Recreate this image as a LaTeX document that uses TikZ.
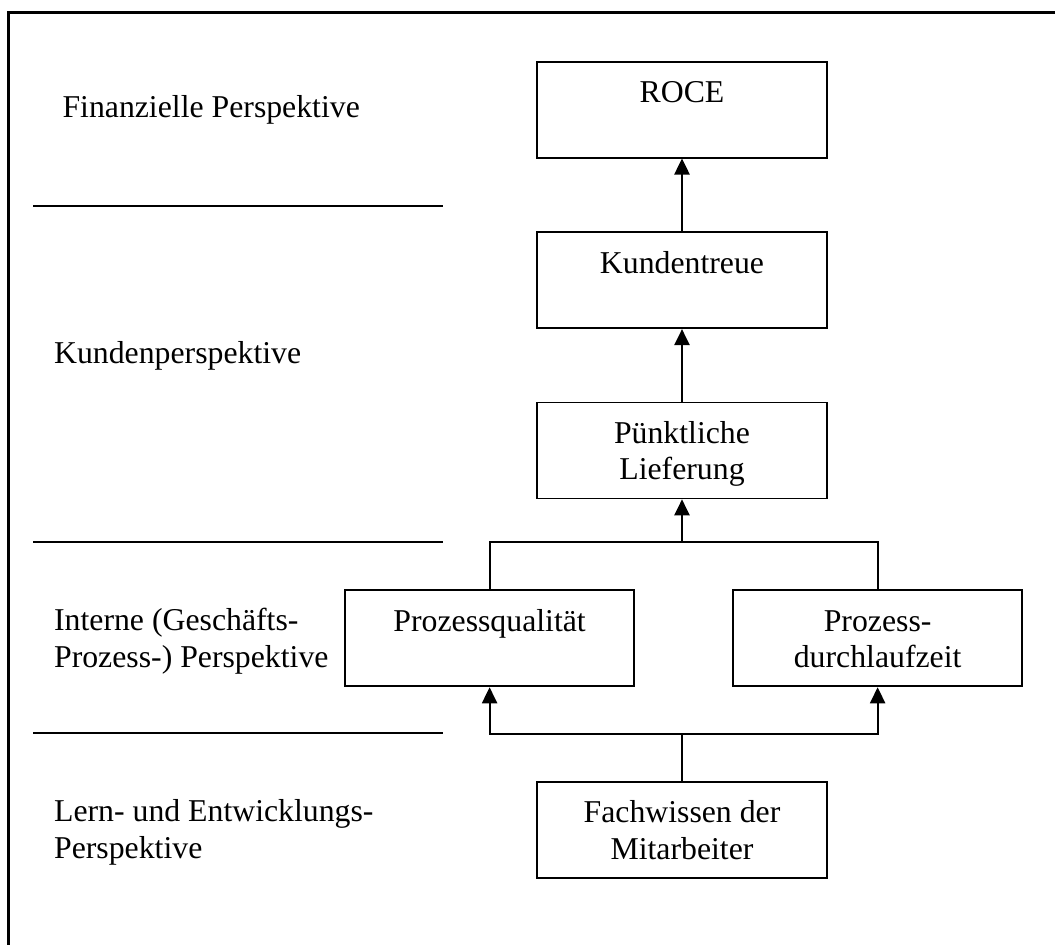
\documentclass[tikz,border=0pt]{standalone}
\usepackage{fontspec}
\setmainfont{Liberation Serif}
\usepackage{tikz}
\usetikzlibrary{arrows.meta,positioning}

\newcommand{\kastentext}[1]{\parbox[c][2.4cm][t]{7cm}{\centering\rule{0pt}{1.02cm}#1}}

\begin{document}
\begin{tikzpicture}[>={Triangle[length=0.4cm,width=0.38cm]},line width=1.3pt,
    font=\fontsize{22.6}{26.1}\selectfont,
    kasten/.style={draw,rectangle,inner sep=0pt,minimum width=7.235cm,minimum height=2.4cm},
    ebene/.style={anchor=base west,align=left,inner sep=0pt},
    trenn/.style={line width=1.3pt}]
  \useasboundingbox (0,0) rectangle (26.375,-23.625);
  \draw[line width=1.5pt] (0.2125,-23.625) |- (26.375,-0.3125);

  \foreach \y in {-5.14,-13.54,-18.33}
    \draw[trenn] (0.83,\y) -- (11.07,\y);
  \foreach \n/\x/\y/\t in {fin/1.54/-2.935/Finanzielle Perspektive,
      kun/1.33/-9.1/Kundenperspektive,
      int/1.33/-16.69/Interne (Geschäfts-\\Prozess-) Perspektive,
      lern/1.33/-21.46/Lern- und Entwicklungs-\\Perspektive}
    \node[ebene] (\n) at (\x,\y) {\t};

  \node[kasten] (roce) at (17.05,-2.74) {\kastentext{ROCE}};
  \node[kasten,below=1.82cm of roce] (treue) {\kastentext{Kundentreue}};
  \node[kasten,below=1.81cm of treue] (liefer) {\kastentext{Pünktliche\\Lieferung}};
  \node[kasten] (qual) at (12.24,-15.96) {\kastentext{Prozessqualität}};
  \node[kasten,right=2.42cm of qual] (zeit) {\kastentext{Prozess-\\durchlaufzeit}};
  \node[kasten] (fach) at (17.05,-20.75) {\kastentext{Fachwissen der\\Mitarbeiter}};

  \coordinate (oben) at (17.05,-13.56);
  \coordinate (unten) at (17.05,-18.35);
  \draw[->] (treue) -- (roce);
  \draw[->] (liefer) -- (treue);
  \draw (qual.north) |- (oben) -| (zeit.north);
  \draw[->] (oben) -- (liefer.south);
  \draw (fach.north) -- (unten);
  \draw[->] (unten) -| (qual.south);
  \draw[->] (unten) -| (zeit.south);
\end{tikzpicture}
\end{document}
